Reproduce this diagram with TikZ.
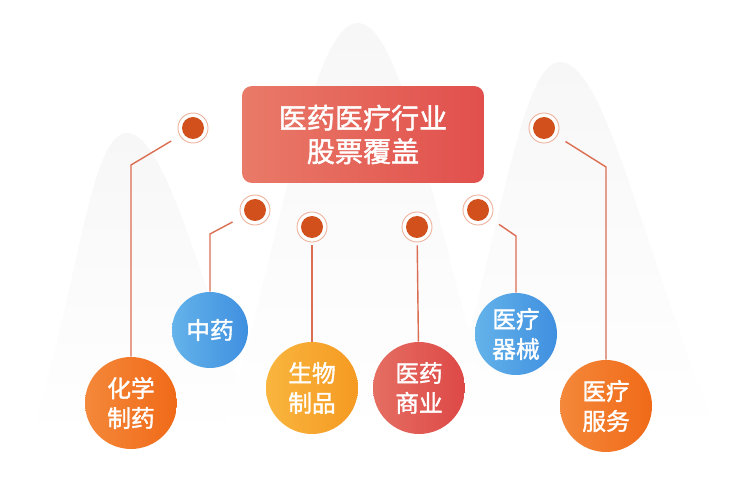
\documentclass[tikz,border=0pt]{standalone}
\usepackage{fontspec}
\setmainfont{Noto Sans CJK SC}[FakeBold=1.5,AutoFakeBold=1.5]
\usepackage{tikz}
\usetikzlibrary{calc}
\definecolor{dagGri}{HTML}{F7F7F7}
\definecolor{baslikSol}{HTML}{E97A68}
\definecolor{baslikSag}{HTML}{E14F4C}
\definecolor{turuncuSol}{HTML}{F4883A}
\definecolor{turuncuSag}{HTML}{F06A18}
\definecolor{maviSol}{HTML}{64B3EA}
\definecolor{maviSag}{HTML}{3F8FE0}
\definecolor{sariSol}{HTML}{F9B53E}
\definecolor{sariSag}{HTML}{F59A22}
\definecolor{kirmiziSol}{HTML}{E56E62}
\definecolor{kirmiziSag}{HTML}{DD4846}
\definecolor{noktaTuruncu}{HTML}{D2501C}
\definecolor{halkaTuruncu}{HTML}{EDB09A}
\definecolor{cizgiTuruncu}{HTML}{DB6E52}

\begin{document}
\begin{tikzpicture}[x=0.02cm,y=-0.02cm,
  baslikKutu/.style={rounded corners=0.2cm,minimum width=4.84cm,minimum height=1.94cm,
    left color=baslikSol,right color=baslikSag,text=white,align=center,
    font=\fontsize{16}{19}\selectfont},
  balon/.style={circle,inner sep=0pt,text=white,align=center,
    font=\fontsize{13.5}{17}\selectfont},
  pimNokta/.style={circle,draw=halkaTuruncu,line width=0.5pt,fill=white,
    minimum size=0.6cm,inner sep=0pt,
    path picture={\fill[noktaTuruncu] (path picture bounding box.center) circle (0.22cm);}},
  baglanti/.style={cizgiTuruncu,line width=0.8pt,shorten <=0.2cm}]
\useasboundingbox (0,0) rectangle (750,499);
% arka plan daglari
\shade[top color=dagGri,bottom color=white] (30,440) .. controls (80,280) and (90,133) .. (127,133)
  .. controls (165,133) and (200,280) .. (260,440) -- cycle;
\shade[top color=dagGri,bottom color=white] (440,440) .. controls (500,240) and (520,62) .. (560,62)
  .. controls (605,62) and (640,240) .. (720,440) -- cycle;
\shade[top color=dagGri,bottom color=white] (220,440) .. controls (280,250) and (310,23) .. (358,23)
  .. controls (405,23) and (440,250) .. (500,440) -- cycle;
% baslik
\node[baslikKutu] (baslik) at (363,134.5) {医药医疗行业\\股票覆盖};
% balonlar
\node[balon,minimum size=1.84cm,left color=turuncuSol,right color=turuncuSag] (kimya) at (131,403) {化学\\制药};
\node[balon,minimum size=1.52cm,left color=maviSol,right color=maviSag] (ot) at (210,330) {中药};
\node[balon,minimum size=1.84cm,left color=sariSol,right color=sariSag] (bio) at (312,388) {生物\\制品};
\node[balon,minimum size=1.84cm,left color=kirmiziSol,right color=kirmiziSag] (ticaret) at (419,388) {医药\\商业};
\node[balon,minimum size=1.64cm,left color=maviSol,right color=maviSag] (cihaz) at (516,334) {医疗\\器械};
\node[balon,minimum size=1.84cm,left color=turuncuSol,right color=turuncuSag] (hizmet) at (606,406) {医疗\\服务};
% pim noktalari
\node[pimNokta] (n1) at (193,128) {};
\node[pimNokta] (n2) at (255,210) {};
\node[pimNokta] (n3) at (312,227) {};
\node[pimNokta] (n4) at (417,227) {};
\node[pimNokta] (n5) at (478,210) {};
\node[pimNokta] (n6) at (544,128) {};
% kirilma noktalari
\coordinate (k1) at (131,165);
\coordinate (k2) at (210,234);
\coordinate (k5) at (516,236);
\coordinate (k6) at (606,167);
% cizgiler
\draw[baglanti] (n1) -- (k1) -- (kimya);
\draw[baglanti] (n2) -- (k2) -- (ot);
\draw[baglanti,shorten <=0.06cm] (n3) -- (bio);
\draw[baglanti,shorten <=0.06cm] (n4) -- (ticaret);
\draw[baglanti] (n5) -- (k5) -- (cihaz);
\draw[baglanti] (n6) -- (k6) -- (hizmet);
\end{tikzpicture}
\end{document}
